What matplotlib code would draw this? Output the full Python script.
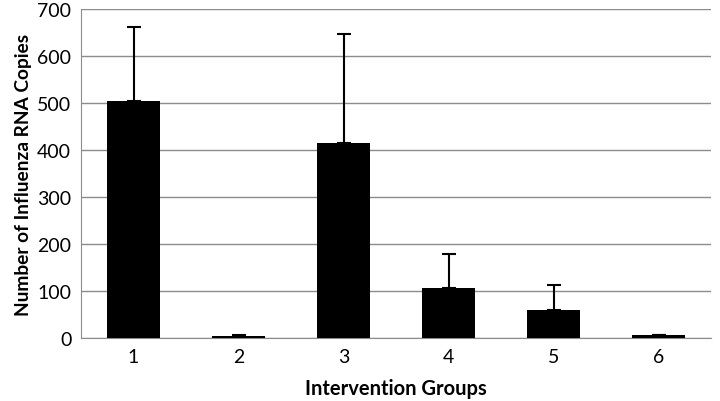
import matplotlib.pyplot as plt

groups = ['1', '2', '3', '4', '5', '6']
means = [504, 3, 415, 106, 60, 6]
upper_err = [158, 3, 232, 72, 52, 0]

plt.rcParams['font.family'] = ['Lato', 'DejaVu Sans']

fig = plt.figure(figsize=(7.2, 4.02), dpi=100)
ax = fig.add_axes([0.1125, 0.157, 0.875, 0.818])

x = range(len(groups))
ax.bar(x, means, width=0.5, color='black', zorder=3,
       yerr=[[0] * len(means), upper_err],
       error_kw=dict(ecolor='black', elinewidth=1.5, capsize=5, capthick=1.5))

ax.set_xlim(-0.5, len(groups) - 0.5)
ax.set_ylim(0, 700)
ax.set_yticks(range(0, 701, 100))
ax.set_xticks(list(x))
ax.set_xticklabels(groups)
ax.tick_params(axis='both', length=0, labelsize=14, pad=7)
ax.yaxis.grid(True, color='#8c8c8c', linewidth=1, zorder=0)
ax.set_axisbelow(True)

for side in ['top', 'right']:
    ax.spines[side].set_visible(False)
for side in ['left', 'bottom']:
    ax.spines[side].set_color('#8c8c8c')

ax.set_xlabel('Intervention Groups', fontsize=14.5, fontweight='bold', labelpad=10)
ax.set_ylabel('Number of Influenza RNA Copies', fontsize=13.8, fontweight='bold', labelpad=4)

fig.savefig('out.png', dpi=100)
